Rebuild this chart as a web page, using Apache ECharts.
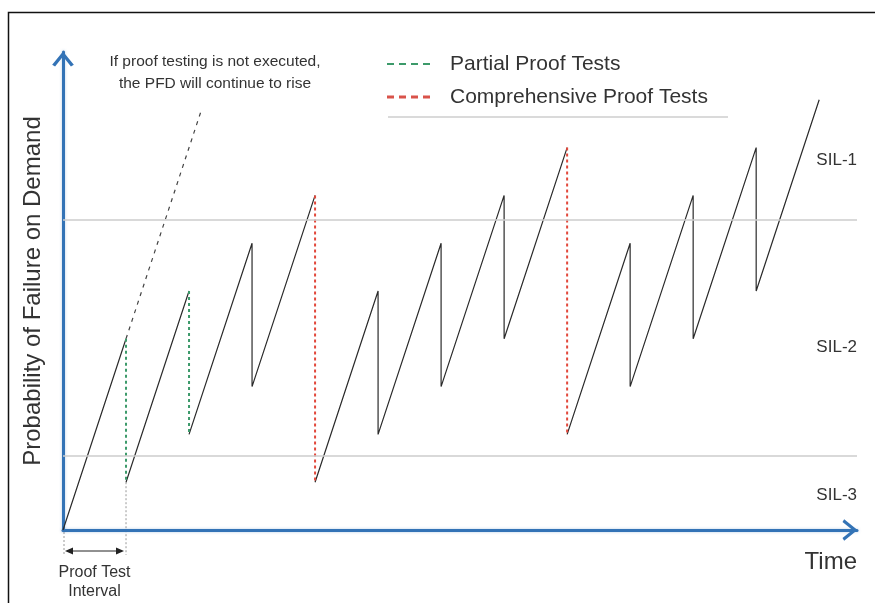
<!DOCTYPE html>
<html>
<head>
<meta charset="utf-8">
<title>PFD sawtooth</title>
<script src="https://cdn.jsdelivr.net/npm/echarts@6/dist/echarts.min.js"></script>
<style>
  html, body { margin: 0; padding: 0; background: #fff; }
  #chart { width: 875px; height: 603px; }
</style>
</head>
<body>
<div id="chart"></div>
<script>
// test instants, counted in proof test intervals from start
const testTimes = [1, 2, 3, 4, 5, 6, 7, 8, 9, 10, 11]
// PFD just before / just after each test (0-100 scale)
const pfdBefore = [40, 50, 60, 70, 50, 60, 70, 80, 60, 70, 80]
const pfdAfter = [10, 20, 30, 10, 20, 30, 40, 20, 30, 40, 50]
const testKind = ['partial', 'partial', 'plain', 'comprehensive', 'plain', 'plain', 'plain', 'comprehensive', 'plain', 'plain', 'plain']
const startPoint = [0, 0]
const endPoint = [12, 90]
// what happens without proof testing
const noTestLine = [[1, 40], [2.2, 88]]
// SIL band boundaries
const silBounds = [65, 15.5]
const silLabels = ['SIL-1', 'SIL-2', 'SIL-3']

const FONT = 'Liberation Sans, Arial, sans-serif'
const TEXT = '#333'

// build the sawtooth, breaking it where a dashed test line replaces the drop
const sawtooth = [startPoint]
const partialDrops = []
const fullDrops = []
testTimes.forEach((t, i) => {
  sawtooth.push([t, pfdBefore[i]])
  if (testKind[i] !== 'plain') {
    sawtooth.push([t, '-'])
    const target = testKind[i] === 'partial' ? partialDrops : fullDrops
    target.push([t, pfdBefore[i]], [t, pfdAfter[i]], [t, '-'])
  }
  sawtooth.push([t, pfdAfter[i]])
})
sawtooth.push(endPoint)

const chevron = 'path://M0,16 L13,0 L26,16 L22.5,18 L13,6 L3.5,18 Z'
const axisLine = {
  show: true,
  symbol: ['none', chevron],
  symbolSize: [25, 15],
  symbolOffset: [0, -7],
  lineStyle: { color: '#3373b6', width: 3, shadowColor: 'rgba(51,115,182,0.35)', shadowBlur: 3 }
}

const chart = echarts.init(document.getElementById('chart'))

const option = {
  animation: false,
  backgroundColor: '#fff',
  grid: { left: 63, right: 18, top: 52, bottom: 73 },
  xAxis: {
    type: 'value',
    min: 0,
    max: 12.6,
    axisLine: axisLine,
    axisTick: { show: false },
    axisLabel: { show: false },
    splitLine: { show: false }
  },
  yAxis: {
    type: 'value',
    min: 0,
    max: 100,
    name: 'Probability of Failure on Demand',
    nameLocation: 'middle',
    nameRotate: 90,
    nameGap: 18,
    nameTextStyle: { fontFamily: FONT, fontSize: 24, color: TEXT },
    axisLine: axisLine,
    axisTick: { show: false },
    axisLabel: { show: false },
    splitLine: { show: false }
  },
  series: [
    {
      name: 'PFD',
      type: 'line',
      data: sawtooth,
      symbol: 'none',
      connectNulls: false,
      lineStyle: { color: '#2a2a2a', width: 1.2 },
      z: 3,
      markLine: {
        silent: true,
        symbol: 'none',
        label: { show: false },
        lineStyle: { color: '#cdcdcd', width: 1.5, type: 'solid' },
        data: silBounds.map((v) => ({ yAxis: v }))
      }
    },
    {
      name: 'No proof testing',
      type: 'line',
      data: noTestLine,
      symbol: 'none',
      lineStyle: { color: '#444', width: 1.2, type: [4, 5] },
      z: 3
    },
    {
      name: 'Partial Proof Tests',
      type: 'line',
      data: partialDrops,
      symbol: 'none',
      connectNulls: false,
      lineStyle: { color: '#3c9a6a', width: 2, type: [3, 3] },
      z: 4
    },
    {
      name: 'Comprehensive Proof Tests',
      type: 'line',
      data: fullDrops,
      symbol: 'none',
      connectNulls: false,
      lineStyle: { color: '#e2483b', width: 2, type: [3, 3] },
      z: 4
    }
  ]
}

chart.setOption(option)

// annotations placed from the axis scales
const p0 = chart.convertToPixel({ gridIndex: 0 }, [0, 0])
const p1 = chart.convertToPixel({ gridIndex: 0 }, [1, pfdAfter[0]])
const axisY = p0[1]
const arrowY = axisY + 21
const midX = (p0[0] + p1[0]) / 2

const text = (x, y, str, size, align) => ({
  type: 'text',
  x: x,
  y: y,
  silent: true,
  style: {
    text: str,
    fill: TEXT,
    font: `${size}px ${FONT}`,
    align: align || 'left',
    verticalAlign: 'middle'
  }
})
const line = (x1, y1, x2, y2, stroke, width, dash) => ({
  type: 'line',
  silent: true,
  shape: { x1, y1, x2, y2 },
  style: { stroke, lineWidth: width, lineDash: dash || null }
})

chart.setOption({
  graphic: [
    {
      type: 'rect',
      silent: true,
      shape: { x: 8.5, y: 12.5, width: 900, height: 700 },
      style: { fill: 'none', stroke: '#111', lineWidth: 1.5 }
    },
    text(215, 62, 'If proof testing is not executed,', 15.5, 'center'),
    text(215, 84, 'the PFD will continue to rise', 15.5, 'center'),
    line(387, 64, 433, 64, '#3c9a6a', 2, [7, 5]),
    line(387, 97, 433, 97, '#d9534a', 3, [7, 5]),
    text(450, 64, 'Partial Proof Tests', 21),
    text(450, 97, 'Comprehensive Proof Tests', 21),
    line(388, 117, 728, 117, '#dadada', 2),
    text(857, 160, silLabels[0], 17, 'right'),
    text(857, 347, silLabels[1], 17, 'right'),
    text(857, 495, silLabels[2], 17, 'right'),
    text(857, 562, 'Time', 24, 'right'),
    // proof test interval marker
    line(p0[0] + 1, axisY + 2, p0[0] + 1, arrowY + 4, '#999', 1, [2, 2]),
    line(p1[0], p1[1], p1[0], arrowY + 4, '#999', 1, [2, 2]),
    line(p0[0] + 4, arrowY, p1[0] - 4, arrowY, '#222', 1),
    {
      type: 'polygon',
      silent: true,
      shape: { points: [[p0[0] + 2, arrowY], [p0[0] + 10, arrowY - 3.5], [p0[0] + 10, arrowY + 3.5]] },
      style: { fill: '#222' }
    },
    {
      type: 'polygon',
      silent: true,
      shape: { points: [[p1[0] - 2, arrowY], [p1[0] - 10, arrowY - 3.5], [p1[0] - 10, arrowY + 3.5]] },
      style: { fill: '#222' }
    },
    text(midX, arrowY + 22, 'Proof Test', 16, 'center'),
    text(midX, arrowY + 41, 'Interval', 16, 'center')
  ]
})
</script>
</body>
</html>
